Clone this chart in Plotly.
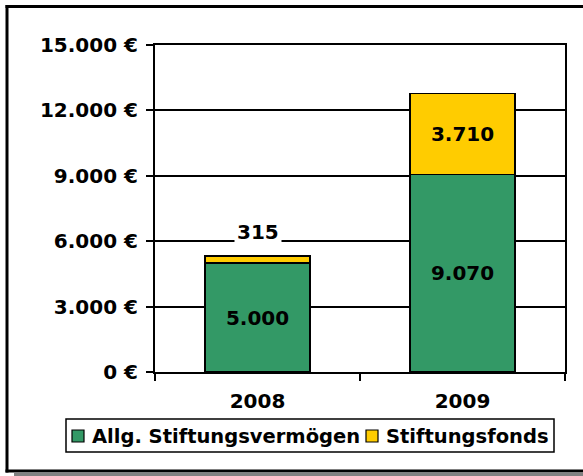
import plotly.graph_objects as go

years = ["2008", "2009"]
series_names = ["Allg. Stiftungsvermögen", "Stiftungsfonds"]
allg = [5000, 9070]
fonds = [315, 3710]
colors = ["#339966", "#FFCC00"]
ytick_vals = [0, 3000, 6000, 9000, 12000, 15000]
ytick_text = ["0 €", "3.000 €", "6.000 €", "9.000 €", "12.000 €", "15.000 €"]

def de(v):
    return f"{v:,}".replace(",", ".")

W, H = 583, 476
L, R, T, B = 155, 18, 45, 104
pw, ph = W - L - R, H - T - B

def px(x):
    return (x - L) / pw

def py(y):
    return (H - B - y) / ph

FONT = "DejaVu Sans"
FS = 20
FS_LEG = 19.5
BOLD = dict(family=FONT, size=FS, color="black", weight="bold")

fig = go.Figure()
fig.add_trace(go.Bar(
    x=years, y=allg, name=series_names[0],
    marker=dict(color=colors[0], line=dict(color="black", width=1.5)),
    text=[de(v) for v in allg], textposition="inside", insidetextanchor="middle",
    textfont=BOLD,
))
fig.add_trace(go.Bar(
    x=years, y=fonds, name=series_names[1],
    marker=dict(color=colors[1], line=dict(color="black", width=1.5)),
    text=["", de(fonds[1])], textposition="inside", insidetextanchor="middle",
    textfont=BOLD,
))

# label for the small top segment of the first bar, placed above the stack
fig.add_annotation(
    x=0, y=allg[0] + fonds[0], xref="x", yref="y",
    text=de(fonds[0]), showarrow=False, yanchor="bottom", yshift=9,
    bgcolor="white", borderpad=2, font=BOLD,
)

def hline(x0, x1, y, color, width, layer="above"):
    return dict(type="line", xref="paper", yref="paper", layer=layer,
                x0=px(x0), x1=px(x1), y0=py(y), y1=py(y),
                line=dict(color=color, width=width))

shapes = [
    # white margin strip right of the plot area
    dict(type="rect", xref="paper", yref="paper", layer="above",
         x0=px(568), x1=px(600), y0=py(469), y1=py(8.5),
         fillcolor="white", line=dict(width=0)),
    # chart frame (left, top, bottom) with shadow below
    hline(14, 600, 474.5, "#808080", 3),
    hline(5.5, 600, 6.5, "black", 3),
    hline(5.5, 600, 471, "black", 3),
    dict(type="line", xref="paper", yref="paper", layer="above",
         x0=px(7), x1=px(7), y0=py(472.5), y1=py(5),
         line=dict(color="black", width=3)),
    # legend box
    dict(type="rect", xref="paper", yref="paper", layer="above",
         x0=px(66), x1=px(554), y0=py(452), y1=py(419),
         fillcolor="white", line=dict(color="black", width=1.5)),
]

# legend entries (swatch + label)
leg_x = [72, 366]
leg_y = 436
for i, name in enumerate(series_names):
    x0 = leg_x[i]
    shapes.append(dict(type="rect", xref="paper", yref="paper", layer="above",
                       x0=px(x0), x1=px(x0 + 12), y0=py(leg_y + 6), y1=py(leg_y - 6),
                       fillcolor=colors[i], line=dict(color="black", width=1.2)))
    fig.add_annotation(x=px(x0 + 18), y=py(leg_y), xref="paper", yref="paper",
                       xanchor="left", yanchor="middle", showarrow=False,
                       text=name, font=dict(family=FONT, size=FS_LEG, color="black", weight="bold"))

fig.update_layout(
    width=W, height=H,
    margin=dict(l=L, r=R, t=T, b=B, pad=0),
    barmode="stack", bargap=0.49,
    paper_bgcolor="white", plot_bgcolor="white",
    font=BOLD,
    shapes=shapes,
    showlegend=False,
    xaxis=dict(
        type="category", range=[-0.5, 1.5], autorange=False,
        showline=True, linecolor="black", linewidth=2, mirror=True,
        ticks="outside", ticklen=7, tickcolor="black", tickwidth=1.5,
        tickson="boundaries", showgrid=False, ticklabelstandoff=10,
        tickfont=BOLD,
    ),
    yaxis=dict(
        range=[0, 15000], autorange=False, tickvals=ytick_vals, ticktext=ytick_text,
        showline=True, linecolor="black", linewidth=2, mirror=True,
        ticks="outside", ticklen=7, tickcolor="black", tickwidth=1.5,
        showgrid=True, gridcolor="black", gridwidth=1.5, zeroline=False,
        ticklabelstandoff=4,
        tickfont=BOLD,
    ),
)

fig.write_html(
    "out.html",
    config={"displayModeBar": False},
    post_script="document.body.style.margin='0';document.body.style.overflow='hidden';",
)
